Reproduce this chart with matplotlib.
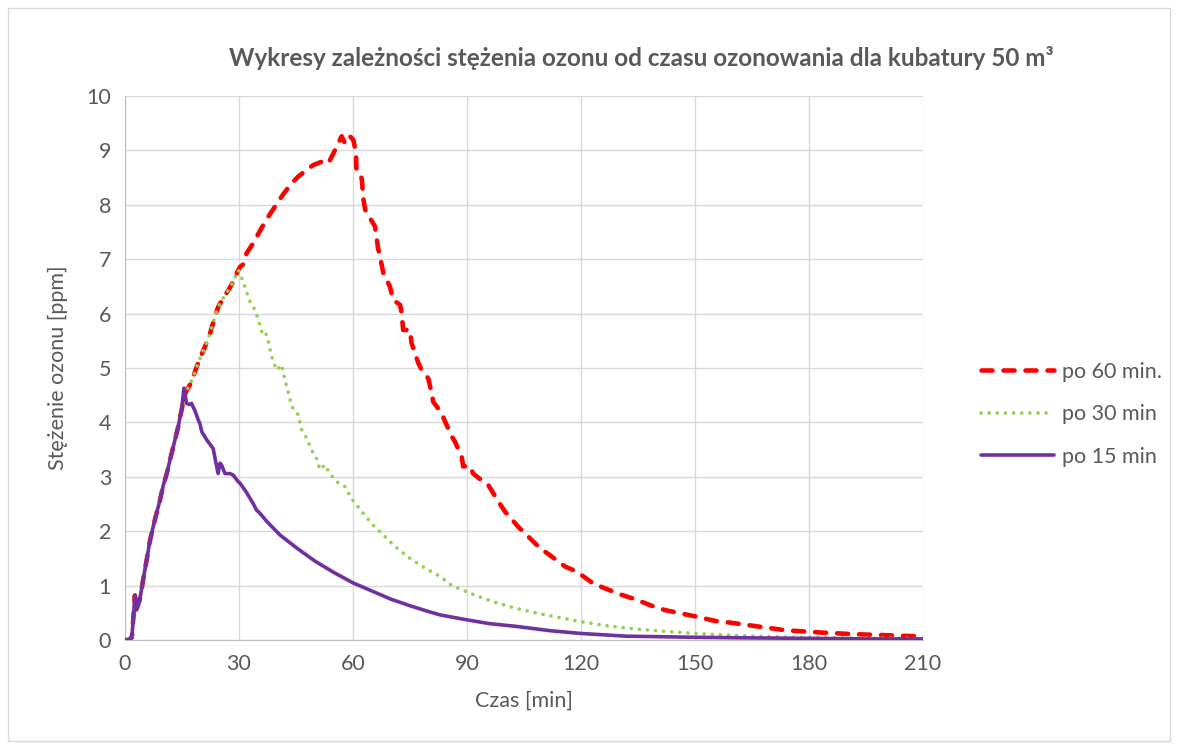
import matplotlib
matplotlib.use('Agg')
import matplotlib.pyplot as plt
from matplotlib.patches import Rectangle

plt.rcParams['font.family'] = ['Lato', 'DejaVu Sans']

# common rising part (all three runs share it)
rise_t = [0, 1.0, 1.8, 2.3, 2.6, 3.0, 3.3, 3.8, 4.4, 5.0, 5.7, 6.5, 7.4, 8.3, 9.2,
          10.1, 11.0, 11.8, 12.7, 13.4, 14.0, 14.5, 14.9]
rise_c = [0, 0, 0.05, 0.5, 0.82, 0.55, 0.62, 0.72, 0.95, 1.2, 1.47, 1.8, 2.08, 2.33, 2.57,
          2.85, 3.06, 3.3, 3.55, 3.75, 3.92, 4.1, 4.23]

# po 60 min.
t60 = [15.5, 16.3, 17.1, 18.0, 18.9, 20.0, 21.2, 22.4, 23.5, 24.5, 25.8, 27.2, 28.5, 29.8,
       30.3, 31.0, 32.0, 33.7, 35.9, 37.7, 39.5, 41.2, 43.4, 45.6, 47.8, 49.5, 51.7, 53.5,
       55.3, 57.0, 57.9, 59.2, 60.1, 60.8, 60.9, 62.3, 62.7, 63.2, 64.0, 65.8, 66.6, 67.1,
       68.0, 69.7, 70.6, 72.4, 72.8, 73.2, 75.0, 75.4, 77.2, 78.1, 79.8, 80.7, 81.1, 83.3,
       84.2, 86.0, 86.8, 88.6, 89.0, 90.8, 91.6, 94.3, 95.6, 98.2, 100.0, 103.5, 105.7,
       109.2, 111.8, 115.8, 118.8, 123.2, 126.3, 130.7, 134.6, 138.6, 142.1, 146.9, 150.4,
       155.3, 159.2, 165.4, 173.7, 182.5, 190.8, 199.6, 208.0, 211.0]
c60 = [4.45, 4.6, 4.69, 4.85, 5.03, 5.22, 5.42, 5.64, 5.9, 6.12, 6.28, 6.43, 6.59, 6.8,
       6.86, 6.9, 7.11, 7.29, 7.57, 7.78, 7.97, 8.15, 8.36, 8.52, 8.64, 8.73, 8.79, 8.76,
       9.01, 9.26, 9.13, 9.26, 9.19, 8.95, 8.61, 8.49, 8.12, 7.91, 7.81, 7.6, 7.2, 7.05,
       6.74, 6.5, 6.25, 6.16, 6.01, 5.7, 5.7, 5.46, 5.09, 4.96, 4.81, 4.54, 4.38, 4.17,
       4.02, 3.74, 3.65, 3.37, 3.19, 3.2, 3.06, 2.91, 2.85, 2.55, 2.36, 2.08, 1.93,
       1.69, 1.56, 1.35, 1.26, 1.04, 0.95, 0.83, 0.74, 0.63, 0.55, 0.48, 0.43,
       0.35, 0.32, 0.26, 0.18, 0.14, 0.11, 0.09, 0.07, 0.07]

# po 30 min
t30 = [15.5, 16.3, 17.1, 18.0, 18.9, 20.0, 21.2, 22.4, 23.5, 24.5, 25.8, 27.2, 28.5, 29.8,
       31.1, 32.4, 33.3, 34.2, 35.1, 36.0, 36.8, 37.7, 38.6, 39.9, 41.2, 42.1, 43.0, 43.9,
       45.6, 46.5, 47.8, 49.1, 50.4, 51.3, 52.6, 53.9, 55.7, 57.9, 59.6, 62.3, 65.3, 68.0,
       71.0, 75.0, 79.0, 82.9, 86.0, 90.8, 97.0, 103.0, 110.0, 119.7, 127.0, 134.6, 142.0,
       150.0, 161.8, 175.0, 190.0, 211.0]
c30 = [4.45, 4.6, 4.69, 4.85, 5.03, 5.22, 5.42, 5.64, 5.9, 6.12, 6.28, 6.43, 6.59, 6.8,
       6.59, 6.31, 6.16, 6.07, 5.88, 5.67, 5.7, 5.49, 5.21, 4.96, 5.06, 4.78, 4.54, 4.29,
       4.14, 3.86, 3.71, 3.49, 3.34, 3.13, 3.22, 3.06, 2.91, 2.82, 2.6, 2.36, 2.11, 1.93,
       1.72, 1.5, 1.32, 1.17, 1.0, 0.86, 0.7, 0.58, 0.47, 0.34, 0.26, 0.2, 0.16,
       0.12, 0.08, 0.05, 0.04, 0.03]

# po 15 min
t15 = [15.5, 16.2, 17.0, 17.5, 18.5, 19.3, 19.7, 20.2, 21.5, 23.2, 24.5, 25.0, 25.4, 26.3,
       27.6, 28.5, 29.8, 30.3, 32.0, 33.7, 34.6, 35.5, 37.3, 40.8, 45.2, 50.0, 55.0, 60.0,
       65.0, 70.0, 75.0, 80.0, 83.0, 90.0, 96.0, 103.0, 112.0, 120.0, 132.0, 150.0, 162.0,
       180.0, 195.0, 211.0]
c15 = [4.63, 4.35, 4.33, 4.35, 4.2, 4.04, 3.98, 3.83, 3.68, 3.52, 3.06, 3.25, 3.22, 3.06,
       3.06, 3.03, 2.91, 2.88, 2.71, 2.51, 2.39, 2.33, 2.18, 1.93, 1.69, 1.45, 1.24, 1.05,
       0.9, 0.75, 0.63, 0.52, 0.46, 0.37, 0.3, 0.25, 0.17, 0.12, 0.07, 0.05, 0.04,
       0.03, 0.02, 0.02]

txt = '#595959'
fs = 15.5
fig = plt.figure(figsize=(11.78, 7.49), dpi=100)
ax = fig.add_axes([125 / 1178, 109 / 749, 798 / 1178, 544 / 749])

ax.plot(rise_t + t60, rise_c + c60, color='#FF0000', lw=3.3, dashes=(2.4, 2.4),
        dash_capstyle='round', label='po 60 min.', zorder=3)
ax.plot(rise_t + t30, rise_c + c30, color='#92D050', lw=2.6, dashes=(0.05, 2.2),
        dash_capstyle='round', label='po 30 min', zorder=4)
ax.plot(rise_t + t15, rise_c + c15, color='#7030A0', lw=2.6,
        solid_capstyle='round', label='po 15 min', zorder=5)

ax.set_xlim(0, 210)
ax.set_ylim(0, 10)
ax.set_xticks(range(0, 211, 30))
ax.set_yticks(range(0, 11))
ax.grid(True, color='#D9D9D9', lw=1)
ax.set_axisbelow(True)
ax.tick_params(length=0, labelsize=fs, labelcolor=txt, pad=10)
for s in ['top', 'right']:
    ax.spines[s].set_visible(False)
for s in ['left', 'bottom']:
    ax.spines[s].set_color('#BFBFBF')

ax.set_xlabel('Czas [min]', fontsize=fs, color=txt, labelpad=12)
ax.set_ylabel('Stężenie ozonu [ppm]', fontsize=fs, color=txt, labelpad=13)

fig.text(641 / 1178, 1 - 58 / 749,
         'Wykresy zależności stężenia ozonu od czasu ozonowania dla kubatury 50 m³',
         ha='center', va='center', fontsize=17.5, fontweight='bold', color=txt)

ax.legend(loc='center left', bbox_to_anchor=(1.049, 0.415), frameon=False,
          fontsize=fs, labelcolor=txt, handlelength=3.35, labelspacing=1.05,
          handletextpad=0.4)

fig.patches.append(Rectangle((8 / 1178, 8 / 749), 1162 / 1178, 733 / 749,
                             transform=fig.transFigure, fill=False,
                             edgecolor='#D9D9D9', lw=1))

fig.savefig('out.png', dpi=100)
